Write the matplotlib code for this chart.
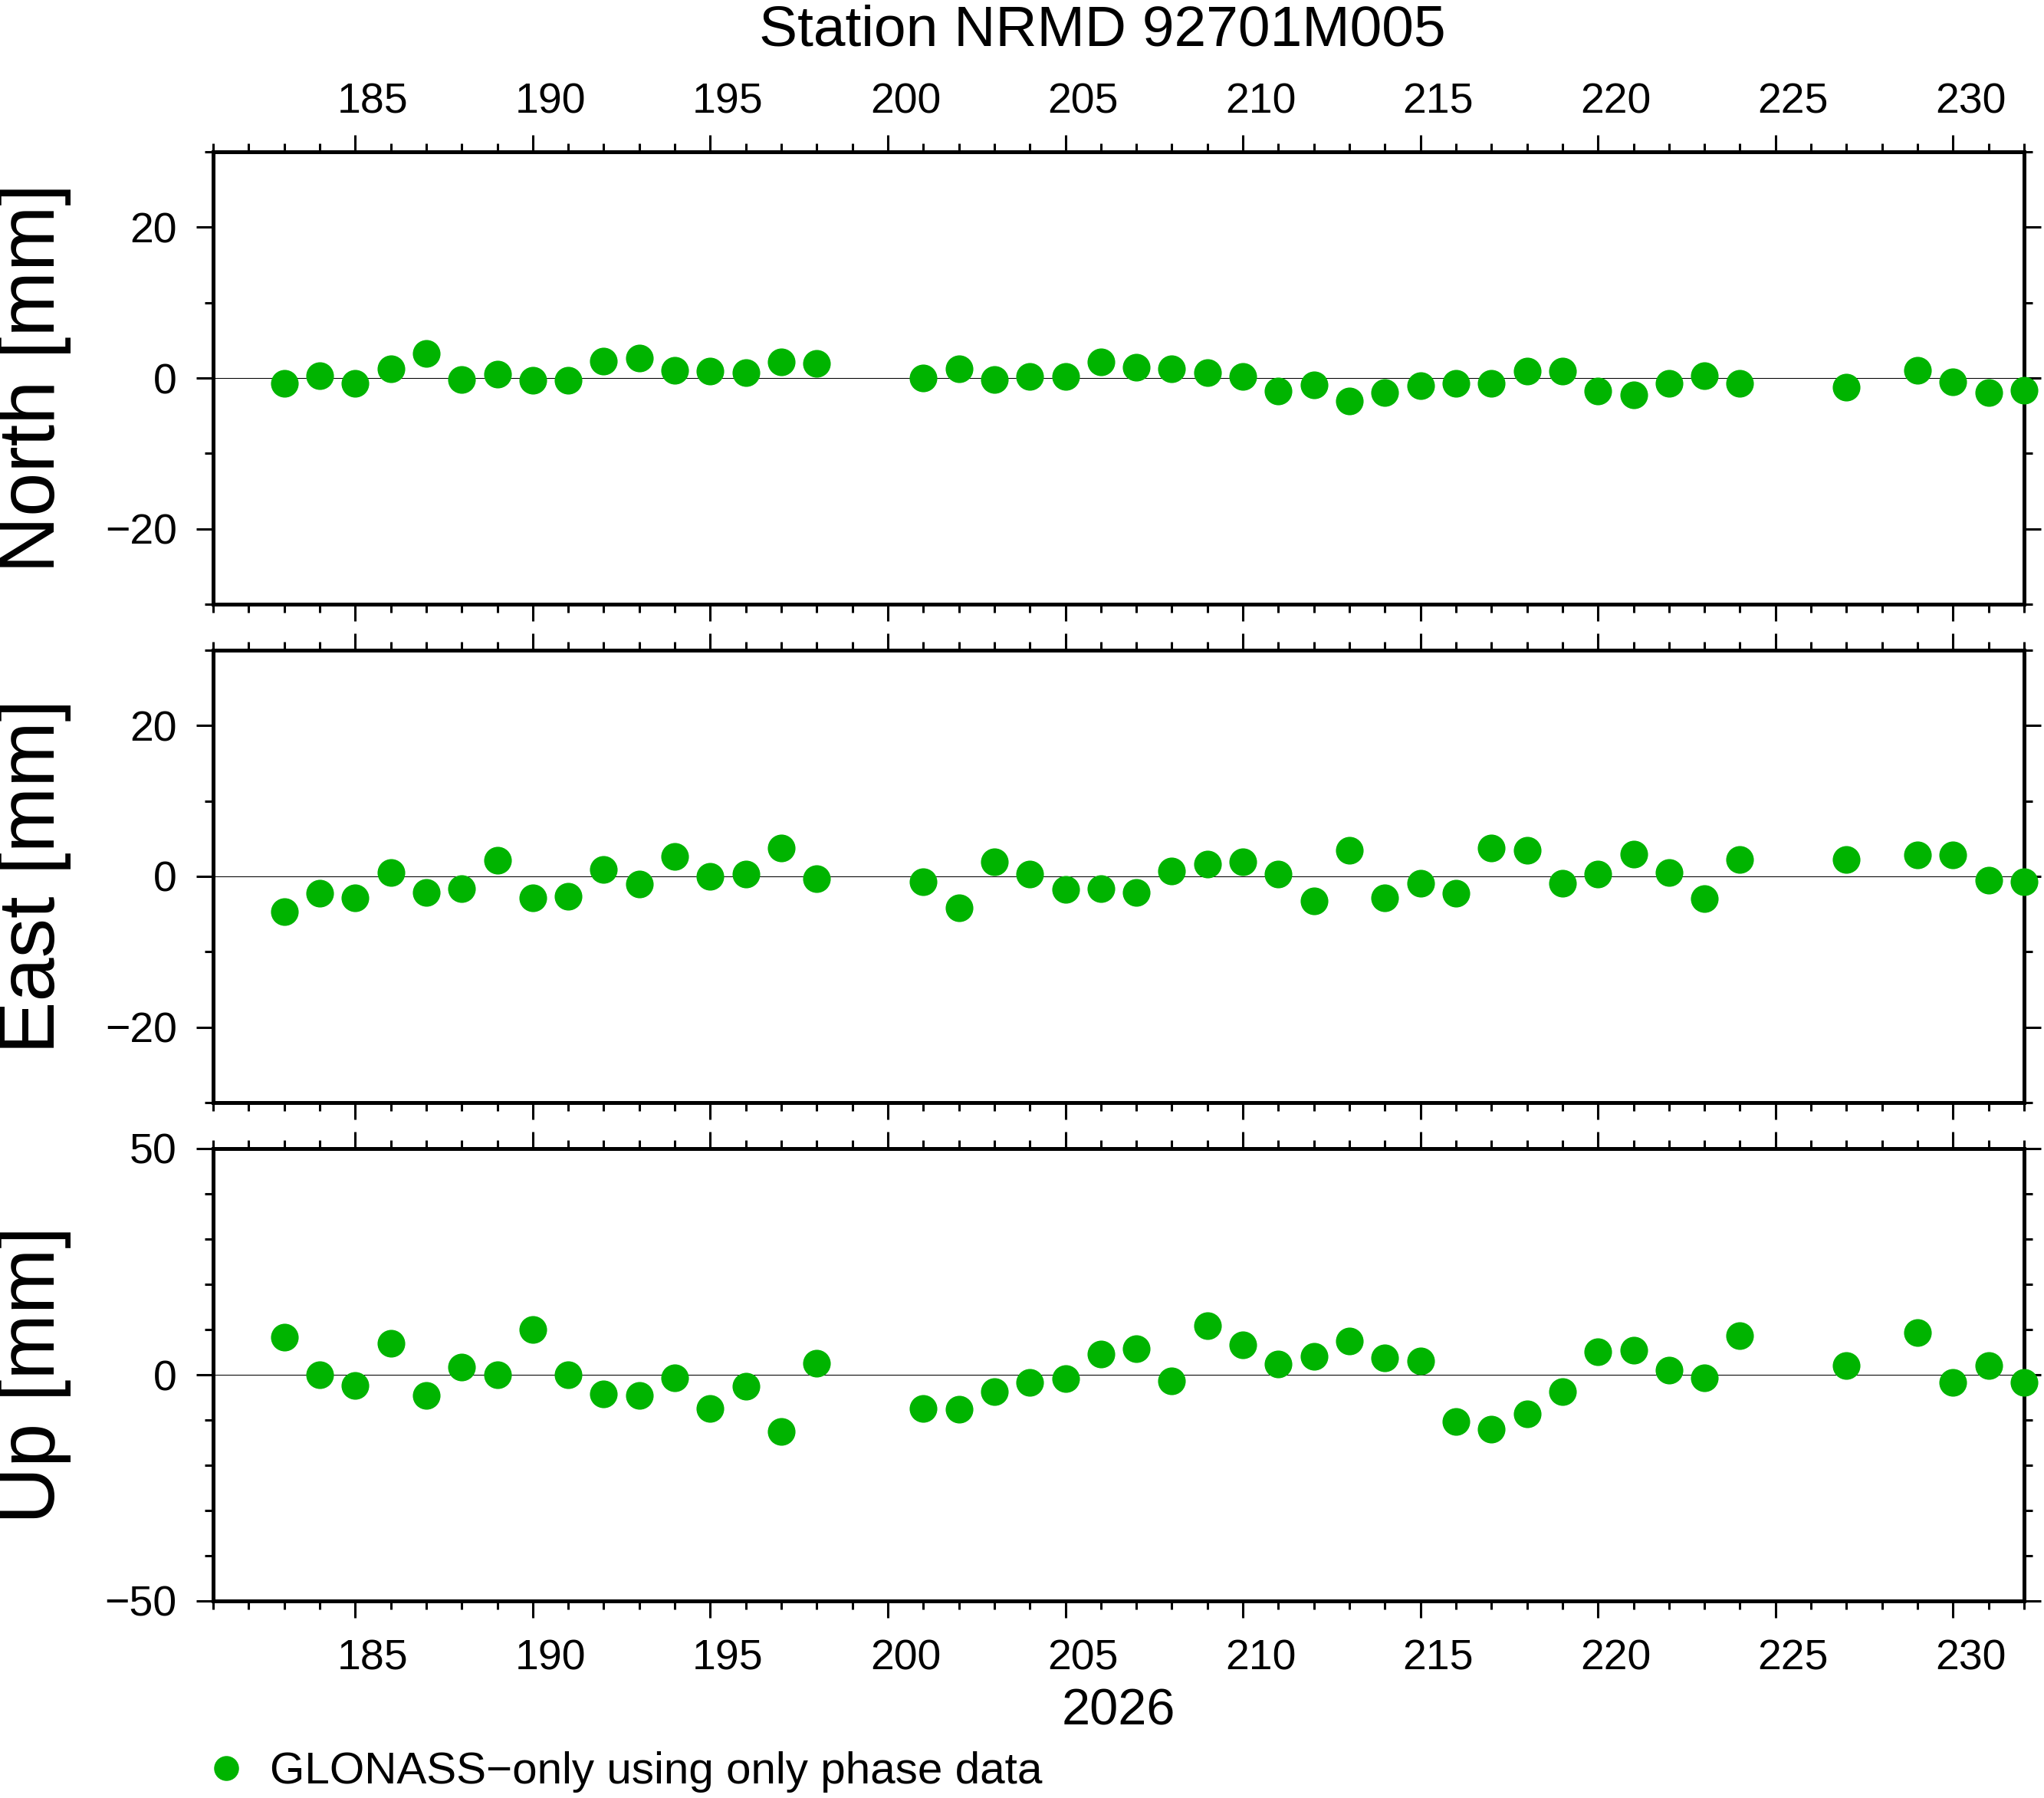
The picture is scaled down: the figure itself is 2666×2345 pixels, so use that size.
import numpy as np
import matplotlib
matplotlib.use("Agg")
from matplotlib import pyplot as plt
from matplotlib.ticker import MultipleLocator
from matplotlib.transforms import ScaledTranslation

plt.rcParams['font.family'] = ['Liberation Sans', 'DejaVu Sans']

# day of year 2026
days = [183, 184, 185, 186, 187, 188, 189, 190, 191, 192, 193, 194, 195, 196, 197, 198,
        201, 202, 203, 204, 205, 206, 207, 208, 209, 210, 211, 212, 213, 214, 215, 216,
        217, 218, 219, 220, 221, 222, 223, 224, 227, 229, 230, 231, 232]

north = [-0.7, 0.3, -0.7, 1.2, 3.3, -0.2, 0.5, -0.3, -0.3, 2.2, 2.6, 1.0, 0.9, 0.7, 2.1, 1.9,
         0.0, 1.2, -0.2, 0.2, 0.2, 2.1, 1.4, 1.2, 0.7, 0.2, -1.7, -0.9, -3.1, -1.9, -1.0, -0.7,
         -0.7, 0.9, 0.9, -1.7, -2.2, -0.7, 0.3, -0.7, -1.2, 1.0, -0.5, -1.9, -1.6]

east = [-4.7, -2.2, -2.8, 0.5, -2.1, -1.6, 2.1, -2.8, -2.6, 0.9, -1.0, 2.6, 0.0, 0.3, 3.8, -0.3,
        -0.7, -4.2, 1.9, 0.3, -1.7, -1.6, -2.1, 0.7, 1.6, 1.9, 0.3, -3.3, 3.5, -2.8, -0.9, -2.2,
        3.8, 3.5, -0.9, 0.3, 2.9, 0.5, -2.9, 2.2, 2.2, 2.8, 2.8, -0.5, -0.7]

up = [8.3, 0.0, -2.3, 6.9, -4.6, 1.7, 0.0, 10.0, 0.0, -4.3, -4.6, -0.6, -7.4, -2.6, -12.6, 2.6,
      -7.4, -7.7, -3.7, -1.7, -0.9, 4.6, 5.7, -1.4, 10.9, 6.6, 2.3, 4.0, 7.4, 3.7, 3.1, -10.3,
      -12.0, -8.6, -3.7, 5.1, 5.4, 1.1, -0.6, 8.6, 2.0, 9.4, -1.7, 2.0, -1.7]

xticks = [185, 190, 195, 200, 205, 210, 215, 220, 225, 230]

panels = [("North [mm]", north, 30, 20), ("East [mm]", east, 30, 20), ("Up [mm]", up, 50, 50)]
green = '#00b400'

W, H = 2666, 2345
fig = plt.figure(figsize=(W/100, H/100), dpi=100)

left = 278 / W
width = 2362 / W
height = 590 / H
bottoms = [1 - 788/H, 1 - 1438/H, 1 - 2088/H]

# day labels sit in the middle of the day interval (GMT style)
half_day = 0.5 * width * W / (232 - 181) / 100
shift = ScaledTranslation(half_day, 0, fig.dpi_scale_trans)

axes = []
for i, (lab, vals, lim, major) in enumerate(panels):
    ax = fig.add_axes([left, bottoms[i], width, height])
    ax.axhline(0, color='black', lw=0.75, zorder=1)
    line, = ax.plot(days, vals, 'o', color=green, ms=26, mew=0, clip_on=False, zorder=3,
                    label='GLONASS\u2212only using only phase data')
    ax.set_xlim(181, 232)
    ax.set_ylim(-lim, lim)
    ax.set_xticks(xticks)
    ax.xaxis.set_minor_locator(MultipleLocator(1))
    ax.yaxis.set_major_locator(MultipleLocator(major))
    ax.yaxis.set_minor_locator(MultipleLocator(10))
    for s in ax.spines.values():
        s.set_linewidth(3.6)
    ax.tick_params(which='both', direction='out', top=True, right=True, width=2.2,
                   labelsize=40, labelbottom=(i == 2), labeltop=(i == 0))
    ax.tick_params(which='major', length=16)
    ax.tick_params(which='minor', length=8)
    ax.tick_params(axis='y', pad=18)
    ax.tick_params(axis='x', which='major', pad=12)
    if i == 2:
        ax.tick_params(axis='x', which='major', pad=20)
    for tk in ax.xaxis.get_major_ticks():
        tk.label1.set_transform(tk.label1.get_transform() + shift)
        tk.label2.set_transform(tk.label2.get_transform() + shift)
    ax.set_ylabel(lab, fontsize=74)
    ax.yaxis.set_label_coords(-0.0783, 0.5)
    axes.append(ax)

fig.text(1438/W, 1 - 60/H, "Station NRMD 92701M005", ha='center', va='baseline', fontsize=54)
fig.text(1459/W, 1 - 2250/H, "2026", ha='center', va='baseline', fontsize=48)

fig.legend(handles=[line], loc='center left', bbox_to_anchor=(266/W, 1 - 2311/H),
           frameon=False, fontsize=42, handlelength=1.0, handletextpad=0.48,
           borderpad=0, borderaxespad=0, markerscale=0.9)

fig.savefig("out.png", dpi=100)
